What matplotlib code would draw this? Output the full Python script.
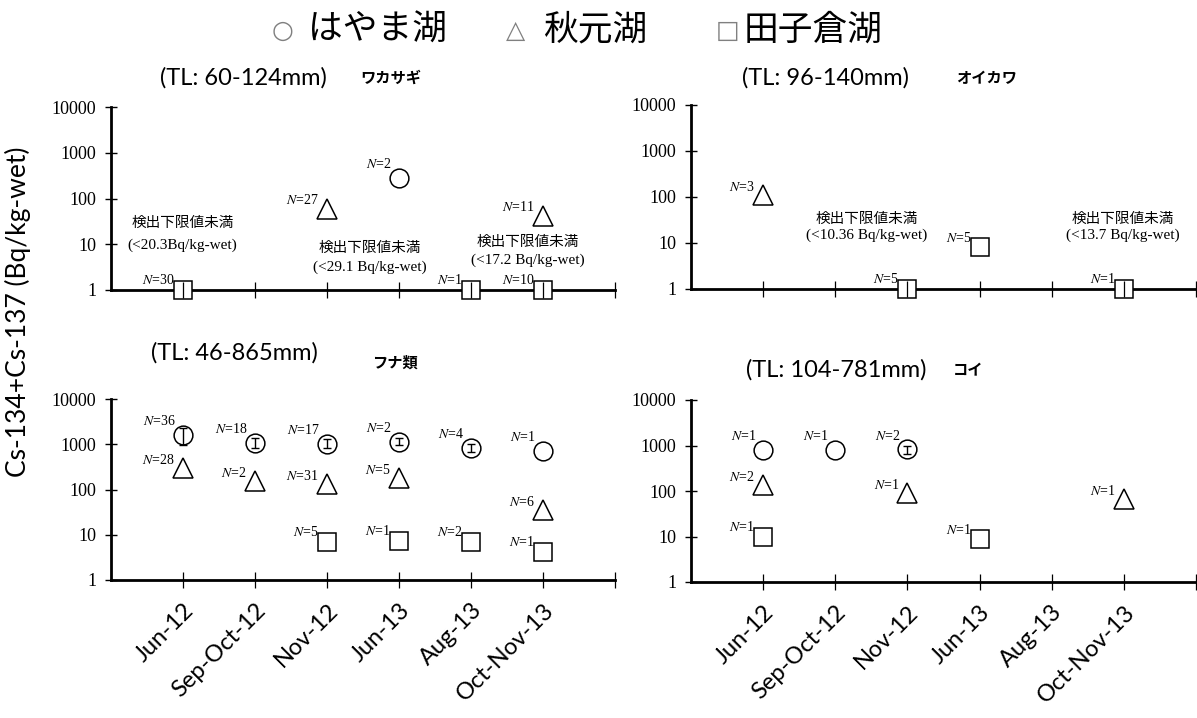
import numpy as np
import matplotlib
matplotlib.use("Agg")
import matplotlib.pyplot as plt
from matplotlib.ticker import FixedLocator, FixedFormatter, NullLocator

plt.rcParams['font.family'] = ['Lato', 'Noto Sans CJK JP', 'DejaVu Sans']
plt.rcParams['mathtext.fontset'] = 'stix'

MONTHS = ['Jun-12', 'Sep-Oct-12', 'Nov-12', 'Jun-13', 'Aug-13', 'Oct-Nov-13']

# --- ワカサギ ---
wak_hayama_x = [4]
wak_hayama_y = [280]
wak_hayama_n = [2]
wak_akimoto_x = [3, 6]
wak_akimoto_y = [60, 42]
wak_akimoto_n = [27, 11]
wak_tagokura_x = [1, 5, 6]
wak_tagokura_y = [1, 1, 1]
wak_tagokura_n = [30, 1, 10]

# --- オイカワ ---
oik_akimoto_x = [1]
oik_akimoto_y = [110]
oik_akimoto_n = [3]
oik_tagokura_x = [3, 4, 6]
oik_tagokura_y = [1, 8, 1]
oik_tagokura_n = [5, 5, 1]

# --- フナ類 ---
funa_hayama_x = [1, 2, 3, 4, 5, 6]
funa_hayama_y = [1600, 1070, 1000, 1120, 820, 700]
funa_hayama_n = [36, 18, 17, 2, 4, 1]
funa_hayama_lo = [950, 830, 810, 960, 690, np.nan]
funa_hayama_hi = [2300, 1400, 1300, 1350, 1000, np.nan]
funa_akimoto_x = [1, 2, 3, 4, 6]
funa_akimoto_y = [300, 155, 130, 180, 35]
funa_akimoto_n = [28, 2, 31, 5, 6]
funa_tagokura_x = [3, 4, 5, 6]
funa_tagokura_y = [7.0, 7.3, 6.9, 4.2]
funa_tagokura_n = [5, 1, 2, 1]

# --- コイ ---
koi_hayama_x = [1, 2, 3]
koi_hayama_y = [800, 800, 820]
koi_hayama_n = [1, 1, 2]
koi_hayama_lo = [np.nan, np.nan, 660]
koi_hayama_hi = [np.nan, np.nan, 1000]
koi_akimoto_x = [1, 3, 6]
koi_akimoto_y = [135, 90, 66]
koi_akimoto_n = [2, 1, 1]
koi_tagokura_x = [1, 4]
koi_tagokura_y = [9.7, 8.7]
koi_tagokura_n = [1, 1]

# below-detection-limit notes
wak_notes = [(0.99, 28.6, 9.5, '(<20.3Bq/kg-wet)'),
             (3.6, 8.2, 3.2, '(<29.1 Bq/kg-wet)'),
             (5.79, 11, 4.5, '(<17.2 Bq/kg-wet)')]
oik_notes = [(2.43, 33, 15, '(<10.36 Bq/kg-wet)'),
             (5.99, 33, 15, '(<13.7 Bq/kg-wet)')]

W, H = 1197, 718
fig = plt.figure(figsize=(W / 100, H / 100), dpi=100)


def make_ax(l, t, r, b):
    return fig.add_axes([l / W, 1 - b / H, (r - l) / W, (b - t) / H])


SERIF = 'Liberation Serif'
OFFS = {'o': (-5, 10), '^': (-6, 6), 's': (-6, 7)}
MS = {'o': 13.5, '^': 14, 's': 12.5}


def series(ax, xs, ys, ns, marker, lo=None, hi=None):
    ax.plot(xs, ys, linestyle='none', marker=marker, ms=MS[marker],
            mfc='white', mec='black', mew=1.1, clip_on=False, zorder=2.6)
    if lo is not None:
        for x, y, l, h in zip(xs, ys, lo, hi):
            if np.isnan(l):
                continue
            ax.errorbar([x], [y], yerr=[[y - l], [h - y]], fmt='none',
                        ecolor='black', elinewidth=1, capsize=3, capthick=1,
                        zorder=2.7, clip_on=False)
    dx, dy = OFFS[marker]
    for x, y, n in zip(xs, ys, ns):
        ax.annotate(f'$N$={n}', (x, y), xytext=(dx, dy),
                    textcoords='offset points', ha='right', va='center',
                    fontsize=10, family=SERIF, annotation_clip=False)


def style(ax, bottom):
    ax.set_yscale('log')
    ax.set_ylim(1, 10000)
    ax.set_xlim(0, 7)
    for s in ['top', 'right']:
        ax.spines[s].set_visible(False)
    for s in ['left', 'bottom']:
        ax.spines[s].set_linewidth(2)
    ax.yaxis.set_major_locator(FixedLocator([1, 10, 100, 1000, 10000]))
    ax.yaxis.set_major_formatter(FixedFormatter(['1', '10', '100', '1000', '10000']))
    ax.yaxis.set_minor_locator(NullLocator())
    ax.tick_params(axis='y', direction='inout', length=9, width=1,
                   labelsize=13, pad=6)
    for lab in ax.get_yticklabels():
        lab.set_family(SERIF)
    ax.xaxis.set_major_locator(FixedLocator([1, 2, 3, 4, 5, 6, 7]))
    ax.tick_params(axis='x', direction='inout', length=12, width=0.9)
    ax.xaxis.set_zorder(3)
    if bottom:
        ax.set_xticklabels(MONTHS + [''], rotation=45, ha='right',
                           rotation_mode='anchor', fontsize=17)
        ax.tick_params(axis='x', pad=8)
    else:
        ax.set_xticklabels([])
    ax.patch.set_alpha(0)


def notes(ax, items):
    for x, y1, y2, txt in items:
        ax.text(x, y1, '検出下限値未満', ha='center', va='center', fontsize=10.5,
                family='Noto Sans CJK JP')
        ax.text(x, y2, txt, ha='center', va='center', fontsize=11, family=SERIF)


ax1 = make_ax(111, 107, 615, 290)
style(ax1, False)
series(ax1, wak_hayama_x, wak_hayama_y, wak_hayama_n, 'o')
series(ax1, wak_akimoto_x, wak_akimoto_y, wak_akimoto_n, '^')
series(ax1, wak_tagokura_x, wak_tagokura_y, wak_tagokura_n, 's')
notes(ax1, wak_notes)

ax2 = make_ax(691, 105, 1196, 289)
style(ax2, False)
series(ax2, oik_akimoto_x, oik_akimoto_y, oik_akimoto_n, '^')
series(ax2, oik_tagokura_x, oik_tagokura_y, oik_tagokura_n, 's')
notes(ax2, oik_notes)

ax3 = make_ax(111, 399, 615, 580)
style(ax3, True)
series(ax3, funa_hayama_x, funa_hayama_y, funa_hayama_n, 'o', funa_hayama_lo, funa_hayama_hi)
series(ax3, funa_akimoto_x, funa_akimoto_y, funa_akimoto_n, '^')
series(ax3, funa_tagokura_x, funa_tagokura_y, funa_tagokura_n, 's')

ax4 = make_ax(691, 400, 1196, 582)
style(ax4, True)
series(ax4, koi_hayama_x, koi_hayama_y, koi_hayama_n, 'o', koi_hayama_lo, koi_hayama_hi)
series(ax4, koi_akimoto_x, koi_akimoto_y, koi_akimoto_n, '^')
series(ax4, koi_tagokura_x, koi_tagokura_y, koi_tagokura_n, 's')

# panel titles
titles = [(243, 78, '(TL: 60-124mm)', 391, 'ワカサギ'),
          (825, 78, '(TL: 96-140mm)', 987, 'オイカワ'),
          (234, 353, '(TL: 46-865mm)', 395, 'フナ類'),
          (836, 370, '(TL: 104-781mm)', 968, 'コイ')]
for i, (tx, ty, tl, sx, sp) in enumerate(titles):
    fig.text(tx / W, 1 - ty / H, tl, ha='center', va='center', fontsize=17)
    sy = ty + 10 if i == 2 else ty
    fig.text(sx / W, 1 - sy / H, sp, ha='center', va='center', fontsize=11,
             family='Noto Sans CJK JP', weight='bold')

# legend header
for sx, sym, lx, lab in [(283, '○', 377, 'はやま湖'), (516, '△', 595, '秋元湖'),
                         (728, '□', 813, '田子倉湖')]:
    fig.text(sx / W, 1 - 31 / H, sym, ha='center', va='center', fontsize=18,
             color='#808080', family='DejaVu Sans')
    fig.text(lx / W, 1 - 30 / H, lab, ha='center', va='center', fontsize=25,
             family='Noto Sans CJK JP')

fig.text(18 / W, 1 - 312 / H, 'Cs-134+Cs-137 (Bq/kg-wet)', rotation=90,
         ha='center', va='center', fontsize=19)

fig.savefig('out.png', dpi=100)
